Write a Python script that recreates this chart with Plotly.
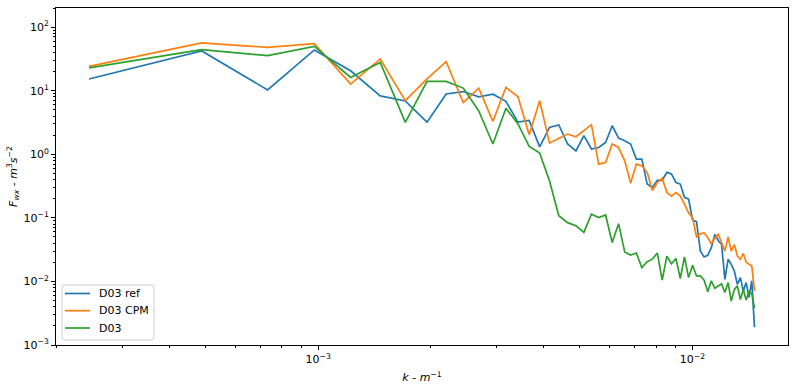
import plotly.graph_objects as go

# wavenumber k (m^-1)
k = [0.00024414, 0.00048828, 0.00073242, 0.00097656, 0.0012207, 0.00146484,
     0.00170898, 0.00195313, 0.00219727, 0.00244141, 0.00268555, 0.00292969,
     0.00317383, 0.00341797, 0.00366211, 0.00390625, 0.00415039, 0.00439453,
     0.00463867, 0.00488281, 0.00512695, 0.00537109, 0.00561523, 0.00585938,
     0.00610352, 0.00634766, 0.0065918, 0.00683594, 0.00708008, 0.00732422,
     0.00756836, 0.0078125, 0.00805664, 0.00830078, 0.00854492, 0.00878906,
     0.0090332, 0.00927734, 0.00952148, 0.00976563, 0.01000977, 0.01025391,
     0.01049805, 0.01074219, 0.01098633, 0.01123047, 0.01147461, 0.01171875,
     0.01196289, 0.01220703, 0.01245117, 0.01269531, 0.01293945, 0.01318359,
     0.01342773, 0.01367188, 0.01391602, 0.01416016, 0.0144043, 0.01464844]

d03_ref = [15.3, 42.2, 10.3, 43.8, 20.6, 8.3, 6.9, 3.2, 8.9, 9.7,
           8.0, 8.8, 6.8, 3.2, 3.4, 1.31, 2.64, 2.9, 1.45, 1.13,
           1.96, 1.21, 1.28, 1.53, 2.81, 1.8, 1.63, 1.45, 0.84, 0.84,
           0.34, 0.30, 0.39, 0.39, 0.52, 0.49, 0.36, 0.34, 0.21, 0.197,
           0.092, 0.087, 0.030, 0.0243, 0.0258, 0.034, 0.055, 0.044, 0.038, 0.0108,
           0.0223, 0.0186, 0.0146, 0.0090, 0.0115, 0.0071, 0.0096, 0.0056, 0.0102, 0.0019]

d03_cpm = [24.1, 56.4, 48.0, 55.0, 12.7, 31.6, 6.96, 15.3, 28.6, 6.5,
           11.0, 3.3, 11.3, 8.0, 2.03, 6.96, 1.5, 1.77, 2.08, 1.89,
           2.34, 2.92, 0.70, 0.74, 1.45, 1.28, 0.79, 0.35, 0.70, 0.66,
           0.52, 0.27, 0.36, 0.42, 0.25, 0.22, 0.25, 0.22, 0.164, 0.12,
           0.10, 0.050, 0.056, 0.058, 0.049, 0.039, 0.048, 0.055, 0.041, 0.030,
           0.050, 0.030, 0.038, 0.025, 0.0223, 0.0275, 0.020, 0.0186, 0.0175, 0.0071]

d03 = [22.8, 44.2, 35.6, 49.8, 16.2, 27.9, 3.17, 14.0, 14.0, 11.0,
       4.8, 1.45, 5.3, 3.0, 1.33, 1.05, 0.38, 0.108, 0.084, 0.075,
       0.059, 0.114, 0.101, 0.111, 0.041, 0.081, 0.029, 0.026, 0.028, 0.0165,
       0.0205, 0.0224, 0.028, 0.0105, 0.025, 0.019, 0.023, 0.0111, 0.0243, 0.0115,
       0.018, 0.0122, 0.0122, 0.0105, 0.0069, 0.0102, 0.0078, 0.0085, 0.0092, 0.0067,
       0.0096, 0.0049, 0.0075, 0.0085, 0.0052, 0.0075, 0.0051, 0.0069, 0.0064, 0.0038]

series_names = ["D03 ref", "D03 CPM", "D03"]
series_colors = ["#1f77b4", "#ff7f0e", "#2ca02c"]

x_tickvals = [1e-3, 1e-2]
x_ticktext = ["10<sup>−3</sup>", "10<sup>−2</sup>"]
y_tickvals = [1e-3, 1e-2, 1e-1, 1e0, 1e1, 1e2]
y_ticktext = ["10<sup>−3</sup>", "10<sup>−2</sup>", "10<sup>−1</sup>",
              "10<sup>0</sup>", "10<sup>1</sup>", "10<sup>2</sup>"]

x_minor = [m * 10.0 ** e for e in (-4, -3) for m in range(2, 10)]
y_minor = [m * 10.0 ** e for e in (-3, -2, -1, 0, 1, 2) for m in range(2, 10)]

fig = go.Figure()
for name, col, vals in zip(series_names, series_colors, [d03_ref, d03_cpm, d03]):
    fig.add_trace(go.Scatter(x=k, y=vals, mode="lines", name=name, showlegend=False,
                             line=dict(color=col, width=1.7)))

font = dict(family="DejaVu Sans", size=11, color="#000000")
axis_common = dict(type="log", showgrid=False, zeroline=False, showline=True,
                   linecolor="#000000", linewidth=1, mirror=True,
                   ticks="outside", ticklen=4, tickwidth=1, tickcolor="#000000",
                   tickfont=font)

# ---- legend (matplotlib-style, compact), in plot-area paper coordinates ----
W, H = 732.0, 337.0            # plot area size in px
def px(dx):
    return dx / W
def py(dy):
    return dy / H

bx0, bx1 = px(6), px(98)
by0, by1 = py(5), py(60)
rx, ry = px(3), py(3)
box_path = (f"M {bx0+rx},{by0} L {bx1-rx},{by0} Q {bx1},{by0} {bx1},{by0+ry} "
            f"L {bx1},{by1-ry} Q {bx1},{by1} {bx1-rx},{by1} L {bx0+rx},{by1} "
            f"Q {bx0},{by1} {bx0},{by1-ry} L {bx0},{by0+ry} Q {bx0},{by0} {bx0+rx},{by0} Z")
shapes = [dict(type="path", path=box_path, xref="paper", yref="paper",
               fillcolor="rgba(255,255,255,0.8)", line=dict(color="#cccccc", width=1),
               layer="above")]
annotations = []
row_y = [py(51.5), py(34.3), py(17.0)]
for name, col, yy in zip(series_names, series_colors, row_y):
    shapes.append(dict(type="line", xref="paper", yref="paper",
                       x0=px(9), x1=px(34), y0=yy, y1=yy,
                       line=dict(color=col, width=1.7), layer="above"))
    annotations.append(dict(text=name, xref="paper", yref="paper", x=px(41), y=yy,
                            xanchor="left", yanchor="middle", showarrow=False,
                            font=font))

fig.update_layout(
    width=798, height=390,
    margin=dict(l=56, r=10, t=8, b=45),
    paper_bgcolor="white", plot_bgcolor="white",
    font=font,
    showlegend=False,
    shapes=shapes,
    annotations=annotations,
    xaxis=dict(axis_common, range=[-3.7006, -1.7447],
               tickmode="array", tickvals=x_tickvals, ticktext=x_ticktext,
               minor=dict(tickmode="array", tickvals=x_minor, ticks="outside",
                          ticklen=2, tickwidth=0.8, tickcolor="#000000", showgrid=False),
               title=dict(text="<i>k</i> - <i>m</i><sup>−1</sup>", font=font, standoff=8)),
    yaxis=dict(axis_common, range=[-3, 2.30103],
               tickmode="array", tickvals=y_tickvals, ticktext=y_ticktext,
               minor=dict(tickmode="array", tickvals=y_minor, ticks="outside",
                          ticklen=2, tickwidth=0.8, tickcolor="#000000", showgrid=False),
               title=dict(text="<i>F</i><sub><i>wx</i></sub> - <i>m</i><sup>3</sup><i>s</i><sup>−2</sup>",
                          font=font, standoff=3)),
)

fig.write_html("out.html")
